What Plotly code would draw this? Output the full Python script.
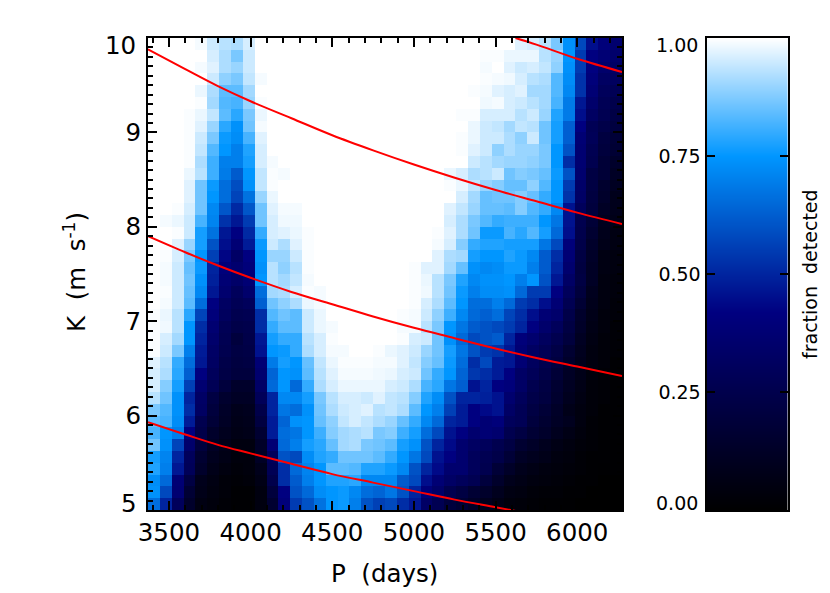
"""Detection fraction map over period and semi-amplitude, with mass curves."""

import plotly.graph_objects as go

# detection fraction, one row per K bin, top row (K near 10) first, 40 period bins
detected = [
    [1, 1, 1, 1, .99, .95, .93, .92, .96, 1, 1, 1, 1, 1, 1, 1, 1, 1, 1, 1, 1, 1, 1, 1, 1, 1, 1, 1, 1, 1, 1, .97, .96, .93, .87, .74, .58, .45, .40, .36],
    [1, 1, 1, 1, 1, .96, .92, .87, .95, 1, 1, 1, 1, 1, 1, 1, 1, 1, 1, 1, 1, 1, 1, 1, 1, 1, 1, 1, .995, .995, .98, .98, .98, .93, .90, .75, .55, .42, .38, .35],
    [1, 1, 1, 1, .99, .97, .92, .90, .95, 1, 1, 1, 1, 1, 1, 1, 1, 1, 1, 1, 1, 1, 1, 1, 1, 1, 1, 1, .99, 1, .97, .95, .96, .94, .89, .74, .55, .42, .35, .33],
    [1, 1, 1, 1, 1, .95, .89, .87, .94, .99, 1, 1, 1, 1, 1, 1, 1, 1, 1, 1, 1, 1, 1, 1, 1, 1, 1, 1, .995, .99, .985, .96, .93, .92, .83, .73, .53, .40, .32, .31],
    [1, 1, 1, 1, .98, .92, .84, .84, .91, 1, 1, 1, 1, 1, 1, 1, 1, 1, 1, 1, 1, 1, 1, 1, 1, 1, 1, .995, .99, .97, .96, .97, .91, .91, .83, .72, .53, .38, .30, .28],
    [1, 1, 1, 1, .995, .91, .83, .82, .90, .995, 1, 1, 1, 1, 1, 1, 1, 1, 1, 1, 1, 1, 1, 1, 1, 1, 1, 1, .985, .99, .96, .95, .93, .91, .82, .69, .47, .35, .28, .25],
    [1, 1, 1, .995, .98, .94, .84, .79, .87, .98, 1, 1, 1, 1, 1, 1, 1, 1, 1, 1, 1, 1, 1, 1, 1, 1, .995, .995, .96, .96, .96, .93, .95, .90, .78, .69, .45, .32, .27, .23],
    [1, 1, 1, .995, .97, .90, .79, .74, .86, .99, 1, 1, 1, 1, 1, 1, 1, 1, 1, 1, 1, 1, 1, 1, 1, 1, 1, .98, .95, .94, .91, .94, .93, .86, .77, .63, .42, .28, .24, .21],
    [1, 1, 1, .995, .95, .87, .76, .73, .82, .97, 1, 1, 1, 1, 1, 1, 1, 1, 1, 1, 1, 1, 1, 1, 1, 1, .995, .98, .95, .95, .92, .89, .95, .86, .77, .63, .38, .29, .21, .18],
    [1, 1, 1, .995, .94, .83, .75, .70, .78, .96, 1, 1, 1, 1, 1, 1, 1, 1, 1, 1, 1, 1, 1, 1, 1, 1, .995, .97, .95, .89, .92, .90, .90, .87, .75, .60, .37, .27, .20, .17],
    [1, 1, 1, .995, .92, .81, .70, .70, .77, .96, .99, 1, 1, 1, 1, 1, 1, 1, 1, 1, 1, 1, 1, 1, 1, 1, 1, .95, .93, .91, .90, .90, .89, .87, .75, .52, .37, .26, .18, .14],
    [1, 1, 1, .98, .93, .81, .69, .62, .75, .94, .995, .99, 1, 1, 1, 1, 1, 1, 1, 1, 1, 1, 1, 1, 1, .98, .96, .92, .93, .95, .86, .88, .87, .85, .76, .60, .36, .22, .18, .12],
    [1, 1, 1, .97, .86, .76, .66, .59, .74, .94, .995, 1, 1, 1, 1, 1, 1, 1, 1, 1, 1, 1, 1, 1, 1, .995, .98, .94, .90, .88, .85, .85, .89, .83, .75, .55, .34, .22, .15, .11],
    [1, 1, 1, .97, .86, .75, .66, .57, .67, .90, .98, 1, 1, 1, 1, 1, 1, 1, 1, 1, 1, 1, 1, 1, 1, 1, .96, .91, .85, .86, .86, .88, .85, .80, .75, .53, .33, .21, .14, .09],
    [1, 1, .995, .96, .86, .72, .61, .51, .61, .86, .97, .99, .99, 1, 1, 1, 1, 1, 1, 1, 1, 1, 1, 1, 1, .97, .94, .90, .85, .85, .84, .88, .83, .80, .72, .46, .30, .20, .12, .09],
    [1, .99, .98, .95, .82, .71, .53, .47, .55, .86, .96, .985, .985, 1, 1, 1, 1, 1, 1, 1, 1, 1, 1, 1, 1, .96, .92, .87, .83, .80, .81, .81, .81, .75, .68, .46, .26, .18, .10, .08],
    [1, 1, .995, .95, .77, .67, .47, .42, .51, .80, .96, .97, .98, .995, 1, 1, 1, 1, 1, 1, 1, 1, 1, 1, .995, .97, .92, .86, .76, .76, .82, .79, .83, .77, .65, .45, .25, .16, .09, .06],
    [1, 1, .97, .90, .77, .60, .45, .38, .48, .76, .95, .92, .97, .995, 1, 1, 1, 1, 1, 1, 1, 1, 1, 1, .99, .96, .88, .80, .78, .78, .77, .77, .77, .68, .58, .40, .24, .14, .08, .06],
    [1, .995, .96, .87, .75, .56, .43, .33, .42, .75, .90, .90, .95, .995, 1, 1, 1, 1, 1, 1, 1, 1, 1, 1, .97, .92, .91, .77, .75, .75, .78, .76, .72, .62, .52, .38, .22, .13, .06, .05],
    [1, .99, .95, .85, .76, .50, .40, .36, .40, .74, .93, .89, .93, .995, 1, 1, 1, 1, 1, 1, 1, 1, .995, .97, .97, .91, .85, .74, .72, .73, .76, .76, .70, .62, .50, .36, .21, .12, .06, .05],
    [1, .99, .95, .86, .74, .49, .38, .34, .38, .75, .93, .91, .94, .99, 1, 1, 1, 1, 1, 1, 1, 1, .995, .98, .93, .87, .78, .72, .74, .74, .75, .70, .75, .60, .47, .33, .22, .12, .05, .04],
    [1, .995, .95, .85, .72, .47, .36, .30, .35, .66, .91, .92, .96, .995, .99, 1, 1, 1, 1, 1, 1, 1, .995, .985, .93, .86, .76, .70, .73, .73, .74, .65, .55, .55, .42, .30, .20, .10, .05, .04],
    [1, .99, .95, .84, .66, .42, .32, .28, .30, .63, .86, .89, .92, .98, .99, 1, 1, 1, 1, 1, 1, 1, .995, .96, .92, .84, .75, .66, .66, .70, .65, .55, .52, .45, .38, .27, .17, .09, .05, .03],
    [.995, .98, .93, .79, .57, .40, .31, .26, .27, .52, .83, .86, .84, .95, .98, 1, 1, 1, 1, 1, 1, .995, .99, .95, .89, .81, .72, .65, .63, .66, .57, .52, .45, .38, .35, .24, .14, .08, .04, .03],
    [.995, .985, .93, .75, .52, .37, .28, .24, .25, .52, .80, .84, .84, .95, .98, .99, 1, 1, 1, 1, 1, .99, .99, .93, .87, .75, .68, .62, .60, .58, .55, .50, .42, .35, .30, .22, .13, .07, .04, .02],
    [.995, .96, .91, .75, .50, .35, .27, .20, .24, .47, .77, .80, .80, .93, .96, .995, 1, 1, 1, 1, 1, .995, .96, .95, .86, .74, .65, .58, .60, .62, .50, .40, .36, .31, .26, .20, .11, .06, .03, .02],
    [.995, .95, .87, .70, .48, .33, .26, .22, .23, .46, .75, .76, .80, .92, .96, .99, .99, 1, 1, .995, .98, .97, .95, .90, .86, .77, .68, .60, .55, .53, .47, .38, .32, .28, .23, .16, .10, .05, .03, .02],
    [.97, .93, .80, .66, .47, .32, .24, .21, .22, .38, .69, .77, .75, .85, .94, .98, .995, .995, .995, .99, .99, .97, .94, .88, .85, .76, .66, .52, .58, .48, .47, .38, .31, .26, .21, .14, .09, .05, .03, .01],
    [.96, .92, .79, .63, .42, .30, .23, .20, .20, .36, .64, .75, .74, .84, .93, .97, .99, .99, .99, .985, .98, .96, .95, .86, .80, .75, .64, .54, .52, .48, .42, .33, .29, .24, .18, .12, .08, .04, .02, .01],
    [.96, .88, .77, .56, .37, .28, .20, .14, .14, .33, .65, .75, .65, .80, .92, .96, .98, .98, .98, .98, .96, .95, .92, .82, .79, .68, .63, .46, .50, .42, .40, .33, .26, .22, .16, .11, .07, .03, .02, .01],
    [.93, .86, .74, .50, .33, .22, .15, .12, .12, .29, .50, .72, .72, .77, .87, .93, .96, .96, .95, .97, .94, .93, .88, .78, .73, .60, .50, .50, .49, .46, .36, .30, .24, .21, .15, .10, .06, .03, .02, .01],
    [.87, .83, .74, .52, .32, .20, .13, .09, .10, .24, .50, .68, .66, .74, .86, .92, .95, .96, .97, .93, .94, .92, .84, .75, .70, .56, .48, .42, .44, .46, .33, .28, .22, .18, .13, .08, .05, .03, .01, .01],
    [.84, .82, .73, .48, .26, .18, .12, .08, .09, .21, .48, .64, .74, .75, .85, .89, .94, .96, .94, .92, .90, .85, .80, .72, .65, .50, .48, .42, .38, .40, .30, .28, .20, .16, .12, .10, .05, .02, .01, .01],
    [.82, .75, .70, .42, .24, .14, .10, .07, .08, .16, .48, .66, .68, .75, .81, .88, .91, .92, .93, .87, .88, .81, .77, .66, .58, .46, .42, .36, .38, .36, .26, .22, .17, .14, .10, .07, .04, .02, .01, .01],
    [.86, .74, .57, .35, .20, .12, .08, .05, .05, .13, .38, .65, .70, .77, .79, .85, .91, .92, .87, .86, .84, .77, .74, .60, .50, .44, .36, .32, .30, .26, .22, .16, .13, .10, .07, .05, .03, .02, .01, .005],
    [.77, .71, .50, .30, .16, .10, .07, .04, .04, .12, .30, .60, .58, .73, .78, .80, .86, .86, .86, .84, .80, .75, .68, .58, .46, .42, .36, .30, .27, .24, .18, .12, .10, .08, .05, .04, .02, .01, .01, .005],
    [.78, .70, .47, .29, .14, .08, .05, .03, .04, .09, .28, .52, .65, .71, .75, .84, .84, .83, .78, .78, .76, .72, .60, .50, .44, .36, .36, .30, .26, .18, .13, .09, .07, .05, .04, .03, .02, .01, .005, .005],
    [.73, .65, .38, .22, .09, .06, .03, .02, .03, .07, .25, .52, .62, .70, .75, .78, .78, .79, .72, .72, .72, .62, .58, .45, .38, .33, .30, .27, .20, .14, .09, .07, .05, .04, .03, .02, .01, .01, 0, 0],
    [.74, .58, .37, .17, .08, .05, .03, .01, .01, .05, .20, .42, .60, .65, .73, .75, .76, .72, .66, .64, .68, .60, .50, .40, .34, .26, .22, .17, .14, .10, .06, .05, .03, .02, .02, .01, .01, 0, 0, 0],
    [.66, .50, .30, .14, .06, .04, .02, .01, .01, .05, .16, .40, .55, .60, .67, .75, .76, .70, .60, .56, .58, .52, .47, .33, .27, .20, .17, .13, .10, .07, .04, .03, .02, .01, .01, .005, 0, 0, 0, 0],
]

# red curves, period in days and K in m/s
curve_p = [3372, 3600, 3800, 4000, 4250, 4500, 4750, 5000, 5250, 5500, 5750, 6000, 6274]
curve_a_k = [9.88, 9.67, 9.49, 9.33, 9.15, 8.97, 8.81, 8.66, 8.52, 8.39, 8.27, 8.15, 8.03]
curve_b_k = [7.90, 7.73, 7.59, 7.46, 7.31, 7.18, 7.05, 6.93, 6.82, 6.71, 6.61, 6.52, 6.42]
curve_c_p = [3372, 3600, 3800, 4000, 4250, 4500, 4750, 5000, 5250, 5500, 5622]
curve_c_k = [5.93, 5.80, 5.69, 5.60, 5.49, 5.38, 5.29, 5.20, 5.11, 5.03, 4.99]
curve_d_p = [5622, 5750, 6000, 6274]
curve_d_k = [10.0, 9.93, 9.78, 9.64]

p_ticks = [3500, 4000, 4500, 5000, 5500, 6000]
k_ticks = [6, 7, 8, 9]
scale_levels = [0, 0.25, 0.5, 0.75, 1]
scale_ticks = [0.25, 0.5, 0.75]
scale_labels = ["0.25", "0.50", "0.75"]

# the page keeps an 8px body margin, so the figure starts that far in
MARGIN = 8
W, H = 830 - MARGIN, 593 - MARGIN
FONT = "DejaVu Sans"
BLUES = [[0, "#000000"], [0.42, "#000080"], [0.75, "#0096ff"], [1, "#ffffff"]]


def px_x(px):
    return (px - MARGIN) / W


def px_y(px):
    return 1 - (px - MARGIN) / H


fig = go.Figure()

fig.add_trace(go.Heatmap(z=detected[::-1], x0=3372 + 36.3, dx=72.55, y0=5.0625, dy=0.125,
                         zmin=0, zmax=1, colorscale=BLUES, showscale=False))

for ps, ks in [(curve_p, curve_a_k), (curve_p, curve_b_k), (curve_c_p, curve_c_k), (curve_d_p, curve_d_k)]:
    fig.add_trace(go.Scatter(x=ps, y=ks, mode="lines", showlegend=False,
                             line=dict(color="#ff0000", width=2, shape="spline")))

# the colour bar is its own little heatmap, smoothed between the scale levels
fig.add_trace(go.Heatmap(z=[[v, v] for v in scale_levels], x=[0, 1], y=scale_levels, xaxis="x2", yaxis="y2",
                         zmin=0, zmax=1, colorscale=BLUES, showscale=False, zsmooth="best"))

y_dom = [px_y(510), px_y(38)]
axis_line = dict(showline=True, linecolor="black", linewidth=2, mirror="allticks", showgrid=False, zeroline=False,
                 automargin=False, ticks="inside", ticklen=9, tickwidth=2, tickcolor="black",
                 tickfont=dict(family=FONT, size=24.5, color="black"))

fig.update_layout(
    width=W, height=H, margin=dict(l=0, r=0, t=0, b=0), paper_bgcolor="white", plot_bgcolor="white",
    showlegend=False,
    xaxis=dict(domain=[px_x(148), px_x(622)], range=[3372, 6274], tickvals=p_ticks,
               minor=dict(dtick=100, ticks="inside", ticklen=5, tickwidth=2, tickcolor="black"), **axis_line),
    yaxis=dict(domain=y_dom, range=[5, 10], tickvals=k_ticks,
               minor=dict(dtick=0.1, ticks="inside", ticklen=5, tickwidth=2, tickcolor="black"), **axis_line),
    xaxis2=dict(domain=[px_x(706.5), px_x(788)], range=[0, 1], anchor="y2", showticklabels=False, automargin=False,
                showline=True, linecolor="black", linewidth=2, mirror=True, ticks="", showgrid=False, zeroline=False),
    yaxis2=dict(domain=y_dom, range=[0, 1], anchor="x2", tickvals=scale_ticks, ticktext=scale_labels, automargin=False,
                showline=True, linecolor="black", linewidth=2, mirror="allticks", showgrid=False, zeroline=False,
                ticks="inside", ticklen=8, tickwidth=2, tickcolor="black",
                tickfont=dict(family=FONT, size=19, color="black")),
)

big = dict(family=FONT, size=24.5, color="black")
small = dict(family=FONT, size=19, color="black")
notes = [
    dict(x=384, y=573, text="P  (days)", font=big),
    dict(x=75, y=272, text="K  (m  s<sup>-1</sup>)", font=big, textangle=-90),
    dict(x=120, y=45, text="10", font=big),
    dict(x=129, y=503, text="5", font=big),
    dict(x=677, y=45, text="1.00", font=small),
    dict(x=677, y=503, text="0.00", font=small),
    dict(x=810, y=274, text="fraction  detected", font=small, textangle=-90),
]
for n in notes:
    fig.add_annotation(xref="paper", yref="paper", x=px_x(n.pop("x")), y=px_y(n.pop("y")),
                       showarrow=False, xanchor="center", yanchor="middle", **n)

fig.write_html("out.html")
